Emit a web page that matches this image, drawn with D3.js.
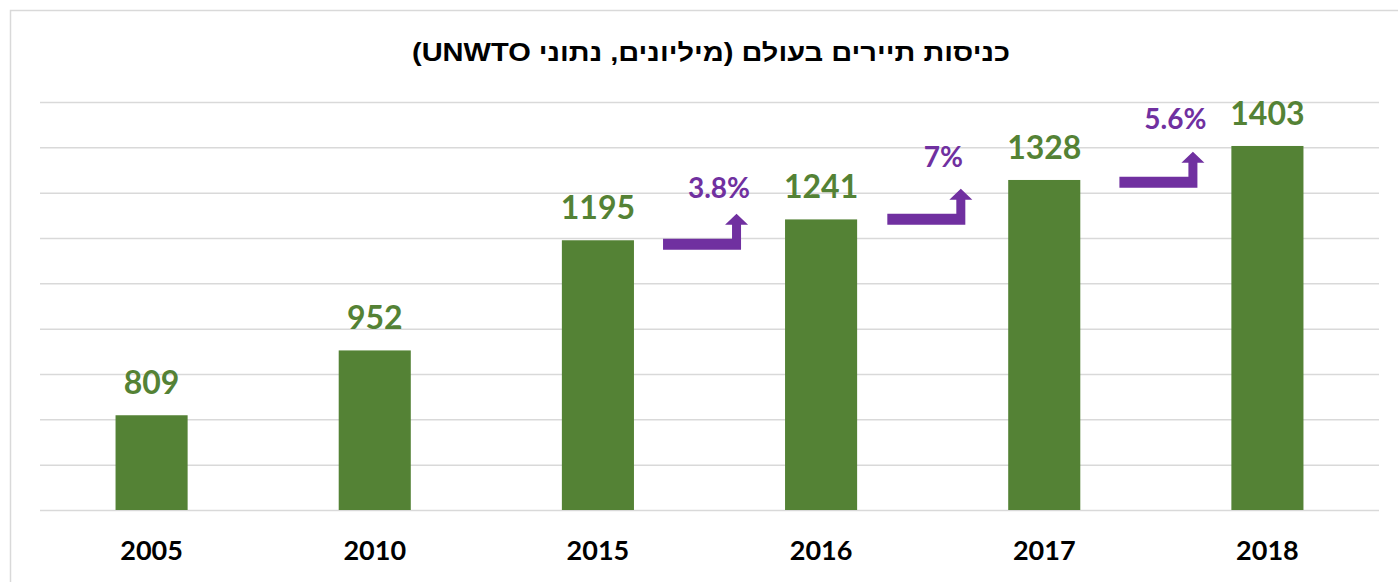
<!DOCTYPE html>
<html lang="he">
<head>
  <meta charset="UTF-8">
  <title>כניסות תיירים בעולם</title>
  <script src="https://d3js.org/d3.v7.min.js"></script>
  <style>
    body { margin: 0; background: #fff; }
  </style>
</head>
<body>
  <svg width="1398" height="582"></svg>
  <script>
  // data
  var years = ["2005", "2010", "2015", "2016", "2017", "2018"];
  var arrivals = [809, 952, 1195, 1241, 1328, 1403];
  var gridTicks = [600, 700, 800, 900, 1000, 1100, 1200, 1300, 1400, 1500];
  var growthLabels = ["3.8%", "7%", "5.6%"];
  var growthFrom = ["2015", "2016", "2017"];
  var growthTo = ["2016", "2017", "2018"];
  var growthPos = [0.48, 0.485, 0.525];  // where the arrow sits between the two bars (0..1)
  var arrowBase = [1174, 1229, 1311];    // value where the arrow foot sits
  var labelLevel = [1289, 1357, 1441];   // value of the label baseline

  var svg = d3.select("svg"),
      margin = {top: 102, right: 19, bottom: 72, left: 40},
      width = +svg.attr("width") - margin.left - margin.right,
      height = +svg.attr("height") - margin.top - margin.bottom;

  var green = "#548235", purple = "#7030a0", grid = "#d9d9d9";

  // outer frame (only top and left edges show in the picture)
  svg.append("rect")
      .attr("x", 10.5).attr("y", 10.5)
      .attr("width", 1420).attr("height", 620)
      .attr("fill", "none")
      .attr("stroke", grid)
      .attr("stroke-width", 1.5);

  svg.append("text")
      .attr("x", 711)
      .attr("y", 61)
      .attr("text-anchor", "middle")
      .attr("direction", "rtl")
      .attr("font-family", "'Liberation Sans', Arial, sans-serif")
      .attr("font-weight", "bold")
      .attr("font-size", 25)
      .attr("textLength", 598)
      .attr("lengthAdjust", "spacingAndGlyphs")
      .attr("fill", "#000")
      .text("כניסות תיירים בעולם (מיליונים, נתוני UNWTO)");

  var g = svg.append("g").attr("transform", "translate(" + margin.left + "," + margin.top + ")");

  var x = d3.scaleBand()
      .domain(years)
      .range([0, width])
      .paddingInner(0.677)
      .paddingOuter(0.677 / 2);

  var y = d3.scaleLinear()
      .domain([600, 1500])
      .range([height, 0]);

  // gridlines
  g.append("g")
      .call(d3.axisLeft(y).tickValues(gridTicks).tickSize(-width).tickFormat(""))
      .call(function(a) { a.select(".domain").remove(); })
      .selectAll("line")
      .attr("stroke", grid)
      .attr("stroke-width", 1.5);

  // x axis labels
  g.append("g")
      .attr("transform", "translate(0," + height + ")")
      .call(d3.axisBottom(x).tickSize(0))
      .call(function(a) { a.select(".domain").remove(); })
      .selectAll("text")
      .attr("y", 50)
      .attr("dy", 0)
      .attr("fill", "#000")
      .attr("font-family", "Lato, sans-serif")
      .attr("font-weight", "bold")
      .attr("font-size", 27);

  var data = years.map(function(d, i) { return {year: d, value: arrivals[i]}; });

  g.selectAll(".bar")
      .data(data)
      .enter().append("rect")
      .attr("class", "bar")
      .attr("x", function(d) { return x(d.year); })
      .attr("y", function(d) { return y(d.value); })
      .attr("width", x.bandwidth())
      .attr("height", function(d) { return height - y(d.value); })
      .attr("fill", green);

  g.selectAll(".val")
      .data(data)
      .enter().append("text")
      .attr("class", "val")
      .attr("x", function(d) { return x(d.year) + x.bandwidth() / 2; })
      .attr("y", function(d) { return y(d.value) - 21; })
      .attr("text-anchor", "middle")
      .attr("font-family", "Lato, sans-serif")
      .attr("font-weight", "bold")
      .attr("font-size", 32)
      .attr("fill", green)
      .text(function(d) { return d.value; });

  // growth arrows between bars
  var arrows = growthLabels.map(function(t, i) {
    var c0 = x(growthFrom[i]) + x.bandwidth() / 2,
        c1 = x(growthTo[i]) + x.bandwidth() / 2;
    return {label: t, cx: c0 + (c1 - c0) * growthPos[i], base: arrowBase[i], level: labelLevel[i]};
  });

  function arrowPath(d) {
    var y0 = y(d.base), xl = d.cx - 42, xr = d.cx + 36;
    return "M" + xl + "," + y0 +
      "L" + xr + "," + y0 +
      "L" + xr + "," + (y0 - 25) +
      "L" + (xr + 7) + "," + (y0 - 25) +
      "L" + (xr - 4.5) + "," + (y0 - 36) +
      "L" + (xr - 16) + "," + (y0 - 25) +
      "L" + (xr - 9) + "," + (y0 - 25) +
      "L" + (xr - 9) + "," + (y0 - 11) +
      "L" + xl + "," + (y0 - 11) + "Z";
  }

  g.selectAll(".arrow")
      .data(arrows)
      .enter().append("path")
      .attr("class", "arrow")
      .attr("d", arrowPath)
      .attr("fill", purple);

  g.selectAll(".pct")
      .data(arrows)
      .enter().append("text")
      .attr("class", "pct")
      .attr("x", function(d) { return d.cx + 14; })
      .attr("y", function(d) { return y(d.level); })
      .attr("text-anchor", "middle")
      .attr("font-family", "Lato, sans-serif")
      .attr("font-weight", "bold")
      .attr("font-size", 28)
      .attr("fill", purple)
      .text(function(d) { return d.label; });
  </script>
</body>
</html>
